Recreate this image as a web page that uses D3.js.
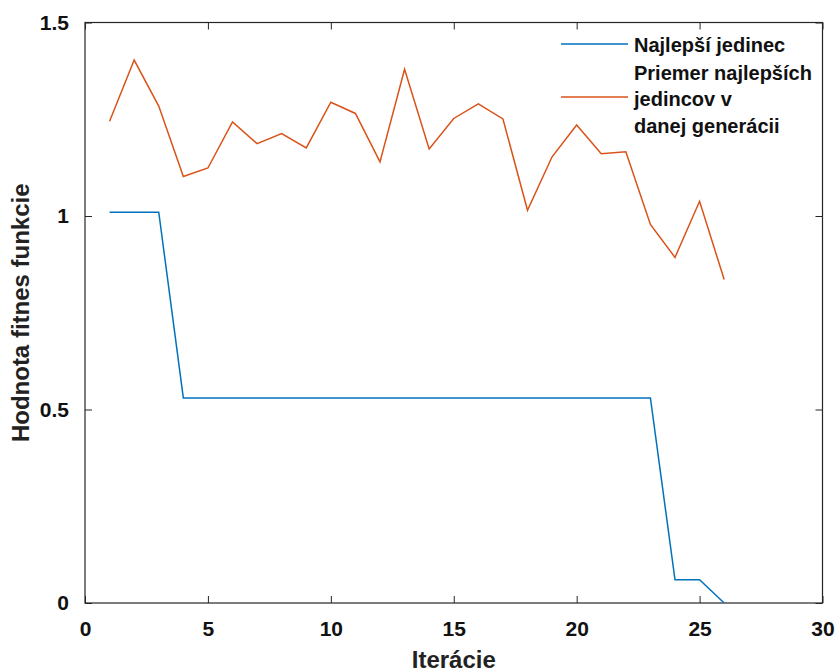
<!DOCTYPE html>
<html>
<head>
<meta charset="utf-8">
<script src="https://cdn.jsdelivr.net/npm/d3@7"></script>
<style>
  body { margin: 0; background: #fff; }
  svg { display: block; font-family: 'Liberation Sans', Arial, sans-serif; }
</style>
</head>
<body>
<div class="content"></div>
<script>
var width = 840
var height = 672

// data
var iterations = d3.range(1, 27)
var best = [1.01, 1.01, 1.01, 0.53, 0.53, 0.53, 0.53, 0.53, 0.53, 0.53, 0.53, 0.53, 0.53,
    0.53, 0.53, 0.53, 0.53, 0.53, 0.53, 0.53, 0.53, 0.53, 0.53, 0.06, 0.06, 0]
var meanBest = [1.245, 1.403, 1.284, 1.102, 1.124, 1.243, 1.187, 1.213, 1.176, 1.294, 1.265,
    1.14, 1.379, 1.173, 1.252, 1.29, 1.251, 1.015, 1.153, 1.235, 1.161, 1.166, 0.978, 0.893,
    1.038, 0.836]
var xTicks = [0, 5, 10, 15, 20, 25, 30]
var yTicks = [0, 0.5, 1, 1.5]
var legendLines = [['Najlepší jedinec'], ['Priemer najlepších', 'jedincov v', 'danej generácii']]
var colors = ['#0072BD', '#D95319']

var margin = { top: 22.5, right: 17.5, bottom: 69, left: 85 }
var w = width - margin.left - margin.right
var h = height - margin.top - margin.bottom

var x = d3.scaleLinear().domain([0, 30]).range([0, w])
var y = d3.scaleLinear().domain([0, 1.5]).range([h, 0])

var svg = d3.select('.content').append('svg')
    .attr('width', width)
    .attr('height', height)

var g = svg.append('g')
    .attr('transform', 'translate(' + margin.left + ',' + margin.top + ')')

var axisColor = '#262626'
var tickLen = 7

function styleAxis(sel, showText) {
    sel.select('.domain').remove()
    sel.selectAll('line').attr('stroke', axisColor).attr('stroke-width', 1)
    sel.selectAll('text')
        .attr('fill', '#111')
        .style('font-size', '21px')
        .style('font-weight', 'bold')
    if (!showText) sel.selectAll('text').remove()
}

g.append('g')
    .attr('transform', 'translate(0,' + h + ')')
    .call(d3.axisBottom(x).tickValues(xTicks).tickSize(-tickLen).tickPadding(18).tickFormat(d3.format('d')))
    .call(styleAxis, true)

g.append('g')
    .call(d3.axisTop(x).tickValues(xTicks).tickSize(-tickLen))
    .call(styleAxis, false)

g.append('g')
    .call(d3.axisLeft(y).tickValues(yTicks).tickSize(-tickLen).tickPadding(16).tickFormat(function(d) { return d === 0 || d === 1 ? d3.format('d')(d) : d }))
    .call(styleAxis, true)

g.append('g')
    .attr('transform', 'translate(' + w + ',0)')
    .call(d3.axisRight(y).tickValues(yTicks).tickSize(-tickLen))
    .call(styleAxis, false)

// box
g.append('rect')
    .attr('width', w)
    .attr('height', h)
    .attr('fill', 'none')
    .attr('stroke', axisColor)
    .attr('stroke-width', 1.2)

var line = d3.line()
    .x(function(d) { return x(d[0]) })
    .y(function(d) { return y(d[1]) })

var series = [best, meanBest]

series.forEach(function(vals, i) {
    g.append('path')
        .datum(iterations.map(function(it, j) { return [it, vals[j]] }))
        .attr('fill', 'none')
        .attr('stroke', colors[i])
        .attr('stroke-width', 1.5)
        .attr('d', line)
})

// legend
var legend = svg.append('g').attr('class', 'legend')
var lineY = [44, 97]
var textY = [[52], [80, 106, 133]]
series.forEach(function(vals, i) {
    legend.append('line')
        .attr('x1', 561).attr('x2', 628)
        .attr('y1', lineY[i]).attr('y2', lineY[i])
        .attr('stroke', colors[i])
        .attr('stroke-width', 1.5)
    legendLines[i].forEach(function(t, k) {
        legend.append('text')
            .attr('x', 634)
            .attr('y', textY[i][k])
            .attr('fill', '#111')
            .style('font-size', '20px')
            .style('font-weight', 'bold')
            .text(t)
    })
})

// axis titles
svg.append('text')
    .attr('x', margin.left + w / 2)
    .attr('y', 668)
    .attr('text-anchor', 'middle')
    .attr('fill', '#222')
    .style('font-size', '24px')
    .style('font-weight', 'bold')
    .text('Iterácie')

svg.append('text')
    .attr('transform', 'translate(29,' + (margin.top + h / 2) + ') rotate(-90)')
    .attr('text-anchor', 'middle')
    .attr('fill', '#222')
    .style('font-size', '24px')
    .style('font-weight', 'bold')
    .text('Hodnota fitnes funkcie')
</script>
</body>
</html>
